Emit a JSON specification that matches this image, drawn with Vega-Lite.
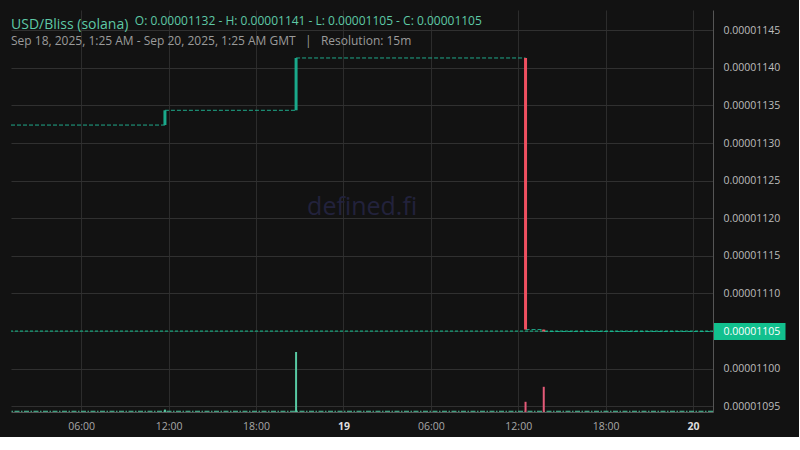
{
  "$schema": "https://vega.github.io/schema/vega-lite/v6.json",
  "width": 702,
  "height": 402,
  "padding": {"left": 10, "top": 10, "right": 5, "bottom": 5},
  "background": "#121212",
  "view": {"stroke": null},
  "config": {"font": "Open Sans"},
  "title": {
    "text": "USD/Bliss (solana)",
    "subtitle": "Sep 18, 2025, 1:25 AM - Sep 20, 2025, 1:25 AM GMT \u00a0\u00a0|\u00a0\u00a0 Resolution: 15m",
    "anchor": "start",
    "frame": "group",
    "offset": -37,
    "font": "Open Sans",
    "fontSize": 14,
    "fontWeight": "normal",
    "color": "#5ec9a6",
    "subtitleFont": "Open Sans",
    "subtitleFontSize": 12,
    "subtitleColor": "#9b9b9b",
    "subtitlePadding": 4
  },
  "datasets": {
    "flats": [
      {"start": "2025-09-18T01:11:00Z", "end": "2025-09-18T11:45:00Z", "price": 0.000011324},
      {"start": "2025-09-18T11:45:00Z", "end": "2025-09-18T20:45:00Z", "price": 0.0000113436},
      {"start": "2025-09-18T20:45:00Z", "end": "2025-09-19T12:30:00Z", "price": 0.0000114132},
      {"start": "2025-09-19T12:30:00Z", "end": "2025-09-19T13:45:00Z", "price": 0.000011052},
      {"start": "2025-09-19T13:45:00Z", "end": "2025-09-20T01:22:00Z", "price": 0.0000110495}
    ],
    "candles": [
      {"t": "2025-09-18T11:45:00Z", "open": 0.000011324, "close": 0.0000113436, "dir": "up"},
      {"t": "2025-09-18T20:45:00Z", "open": 0.0000113436, "close": 0.0000114132, "dir": "up"},
      {"t": "2025-09-19T12:30:00Z", "open": 0.0000114132, "close": 0.000011052, "dir": "down"},
      {"t": "2025-09-19T13:45:00Z", "open": 0.000011052, "close": 0.0000110495, "dir": "down"}
    ],
    "volume": [
      {"t": "2025-09-18T11:45:00Z", "vol": 4, "dir": "up"},
      {"t": "2025-09-18T20:45:00Z", "vol": 100, "dir": "up"},
      {"t": "2025-09-19T12:30:00Z", "vol": 17, "dir": "down"},
      {"t": "2025-09-19T13:45:00Z", "vol": 42, "dir": "down"}
    ]
  },
  "layer": [
    {
      "layer": [
        {
          "data": {"name": "flats"},
          "mark": {"type": "rule", "strokeWidth": 1, "color": "#1fa98a", "strokeDash": [4, 2]},
          "encoding": {
            "x": {
              "field": "start",
              "type": "temporal",
              "scale": {
                "type": "utc",
                "padding": 0,
                "domain": [
                  {"year": 2025, "month": 9, "date": 18, "hours": 1, "minutes": 11, "utc": true},
                  {"year": 2025, "month": 9, "date": 20, "hours": 1, "minutes": 22, "utc": true}
                ]
              },
              "axis": {
                "title": null,
                "values": [
                  {"year": 2025, "month": 9, "date": 18, "hours": 6, "utc": true},
                  {"year": 2025, "month": 9, "date": 18, "hours": 12, "utc": true},
                  {"year": 2025, "month": 9, "date": 18, "hours": 18, "utc": true},
                  {"year": 2025, "month": 9, "date": 19, "hours": 0, "utc": true},
                  {"year": 2025, "month": 9, "date": 19, "hours": 6, "utc": true},
                  {"year": 2025, "month": 9, "date": 19, "hours": 12, "utc": true},
                  {"year": 2025, "month": 9, "date": 19, "hours": 18, "utc": true},
                  {"year": 2025, "month": 9, "date": 20, "hours": 0, "utc": true}
                ],
                "labelExpr": "utchours(datum.value) == 0 ? utcFormat(datum.value, '%-d') : utcFormat(datum.value, '%H:%M')",
                "labelFontWeight": {"condition": {"test": "utchours(datum.value) == 0", "value": "bold"}, "value": "normal"},
                "labelColor": {"condition": {"test": "utchours(datum.value) == 0", "value": "#dddddd"}, "value": "#a8a8a8"},
                "labelFont": "Open Sans",
                "labelFontSize": 10.5,
                "labelPadding": 9,
                "ticks": false,
                "grid": true,
                "gridColor": "#2c2c2c",
                "domainColor": "#555555"
              }
            },
            "x2": {"field": "end"},
            "y": {
              "field": "price",
              "type": "quantitative",
              "scale": {"domain": [0.0000109424, 0.000011477], "zero": false, "nice": false},
              "axis": {
                "title": null,
                "orient": "right",
                "values": [0.00001095, 0.000011, 0.00001105, 0.0000111, 0.00001115, 0.0000112, 0.00001125, 0.0000113, 0.00001135, 0.0000114, 0.00001145],
                "format": ".8f",
                "labelFont": "Open Sans",
                "labelFontSize": 10.5,
                "labelColor": {"condition": {"test": "abs(datum.value - 0.00001105) < 1e-12", "value": "#ffffff"}, "value": "#bdbdbd"},
                "tickSize": 72,
                "tickWidth": {"condition": {"test": "abs(datum.value - 0.00001105) < 1e-12", "value": 17}, "value": 1},
                "tickColor": {"condition": {"test": "abs(datum.value - 0.00001105) < 1e-12", "value": "#12c08e"}, "value": "transparent"},
                "labelPadding": -62,
                "grid": true,
                "gridColor": "#303030",
                "domainColor": "#555555"
              }
            }
          }
        },
        {
          "data": {"values": [{"label": "defined.fi"}]},
          "mark": {"type": "text", "fontSize": 25, "color": "#22223c", "align": "center", "baseline": "middle"},
          "encoding": {
            "x": {"datum": {"year": 2025, "month": 9, "date": 19, "hours": 1, "minutes": 17, "utc": true}, "type": "temporal"},
            "y": {"datum": 0.0000112155, "type": "quantitative"},
            "text": {"field": "label"}
          }
        },
        {
          "data": {"values": [{"last": 0.00001105}]},
          "mark": {"type": "rule", "strokeWidth": 1, "color": "#12c08e", "strokeDash": [3, 2]},
          "encoding": {
            "y": {"field": "last", "type": "quantitative"}
          }
        },
        {
          "data": {"name": "candles"},
          "mark": {"type": "bar", "width": 3},
          "encoding": {
            "x": {"field": "t", "type": "temporal"},
            "y": {"field": "open", "type": "quantitative"},
            "y2": {"field": "close"},
            "color": {
              "field": "dir",
              "type": "nominal",
              "scale": {"domain": ["up", "down"], "range": ["#1aa98b", "#ef5060"]},
              "legend": null
            }
          }
        },
        {
          "data": {"values": [{"ohlc": "O: 0.00001132 - H: 0.00001141 - L: 0.00001105 - C: 0.00001105"}]},
          "mark": {"type": "text", "fontSize": 12, "color": "#5ec9a6", "align": "left", "baseline": "alphabetic"},
          "encoding": {
            "x": {"datum": {"year": 2025, "month": 9, "date": 18, "hours": 9, "minutes": 41, "utc": true}, "type": "temporal"},
            "y": {"datum": 0.000011457, "type": "quantitative"},
            "text": {"field": "ohlc"}
          }
        }
      ]
    },
    {
      "layer": [
        {
          "data": {"values": [{"base": 1.2}]},
          "mark": {"type": "rule", "strokeWidth": 1, "color": "#4ec9a0", "strokeDash": [5, 1.5, 1.5, 1.5]},
          "encoding": {
            "y": {"field": "base", "type": "quantitative", "axis": null, "scale": {"domain": [0, 670]}}
          }
        },
        {
          "data": {"name": "volume"},
          "mark": {"type": "bar", "width": 2},
          "encoding": {
            "x": {"field": "t", "type": "temporal"},
            "y": {"field": "vol", "type": "quantitative", "axis": null, "scale": {"domain": [0, 670]}},
            "color": {
              "field": "dir",
              "type": "nominal",
              "scale": {"domain": ["up", "down"], "range": ["#58c9a3", "#e45a78"]},
              "legend": null
            }
          }
        }
      ]
    }
  ],
  "resolve": {"scale": {"y": "independent", "color": "independent"}}
}
